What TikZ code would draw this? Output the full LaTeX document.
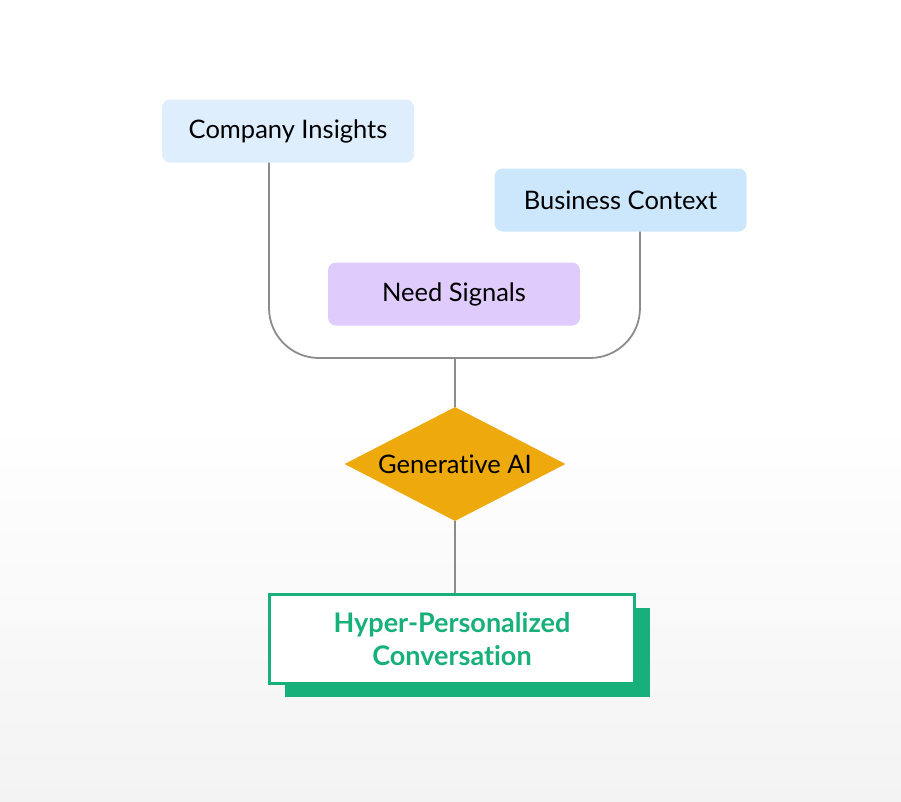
\documentclass[tikz,border=0pt]{standalone}
\usepackage{fontspec}
\setmainfont{Lato}[Ligatures=NoCommon]
\usepackage{tikz}
\usetikzlibrary{shapes.geometric,shadows}

\definecolor{ciblue}{RGB}{223,238,253}
\definecolor{bcblue}{RGB}{204,230,252}
\definecolor{nslilac}{RGB}{224,203,253}
\definecolor{aiorange}{RGB}{238,170,13}
\definecolor{hpgreen}{RGB}{24,176,122}
\definecolor{conngray}{RGB}{140,140,140}
\definecolor{bggray}{RGB}{243,243,243}

\tikzset{
    inbox/.style={rounded corners=8pt, minimum width=252pt, minimum height=63pt,
        inner sep=0pt, font=\fontsize{25.5}{30}\selectfont},
    conn/.style={draw=conngray, line width=1.8pt},
}

\begin{document}
\begin{tikzpicture}[x=1pt, y=-1pt]
    % Fond
    \fill[white] (0,0) rectangle (901,420);
    \shade[top color=white, bottom color=bggray] (0,420) rectangle (901,801);
    \useasboundingbox (0,0) rectangle (901,801);

    % Les entrees
    \node[inbox, fill=ciblue] (ci) at (288,131) {Company Insights};
    \node[inbox, fill=bcblue] (bc) at (620.5,200) {Business Context};
    \node[inbox, fill=nslilac] (ns) at (454,294) {Need Signals};

    % Le modele
    \node[diamond, fill=aiorange, aspect=1.94, inner sep=0pt,
        minimum width=221pt, minimum height=114pt,
        font=\fontsize{25.5}{30}\selectfont] (gen) at (455,464) {Generative AI};

    % La sortie
    \node[draw=hpgreen, line width=3pt, fill=white, minimum width=365pt,
        minimum height=89pt, inner sep=0pt, align=center, text=hpgreen,
        font=\fontsize{27}{33}\selectfont\bfseries,
        drop shadow={shadow xshift=15pt, shadow yshift=-13pt, fill=hpgreen, opacity=1}]
        (hp) at (452,639) {Hyper-Personalized\\Conversation};

    % Les liens
    \coordinate (ciout) at ([xshift=-19pt]ci.south);
    \coordinate (bcout) at ([xshift=19.5pt]bc.south);
    \coordinate (join) at (455,358);
    \draw[conn, rounded corners=50pt] (ciout) |- (join) -| (bcout);
    \draw[conn] (join) -- (gen.north);
    \draw[conn] (gen.south) -- (gen.south |- hp.north);
\end{tikzpicture}
\end{document}
